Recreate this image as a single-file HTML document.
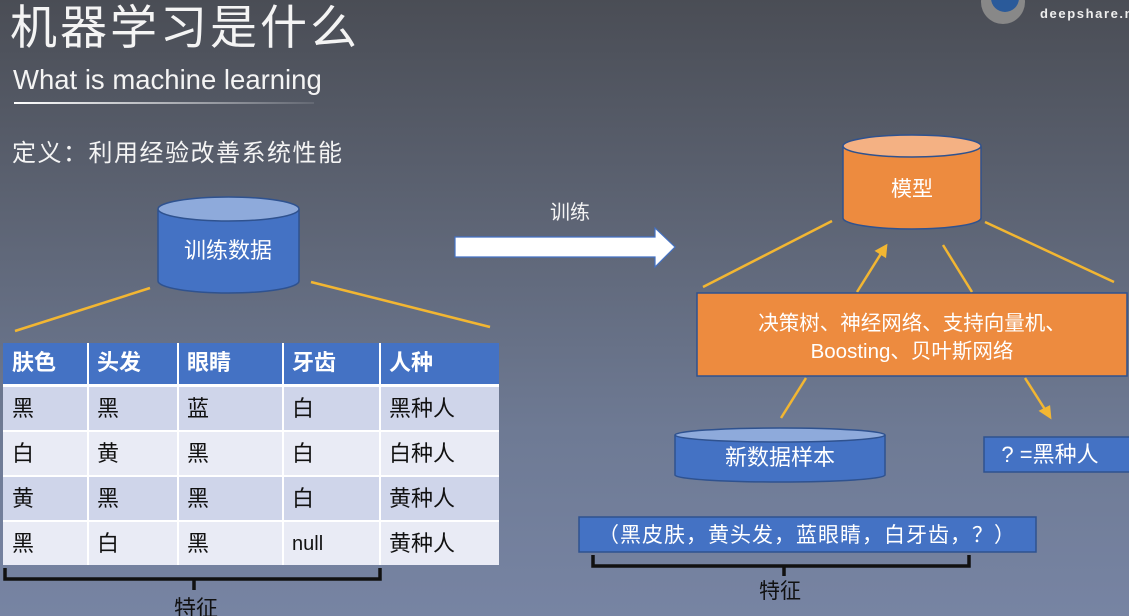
<!DOCTYPE html>
<html><head><meta charset="utf-8"><style>
html,body{margin:0;padding:0;}
body{width:1129px;height:616px;overflow:hidden;background:linear-gradient(180deg,#4a4d55 0%,#5d6474 35%,#6e7a94 70%,#7784a3 100%);}
svg{display:block;font-family:"Liberation Sans","Noto Sans CJK SC",sans-serif;}
</style></head><body>
<svg width="1129" height="616" viewBox="0 0 1129 616">
<defs>
<linearGradient id="ul" x1="0" x2="1"><stop offset="0" stop-color="#fff"/><stop offset="1" stop-color="#fff" stop-opacity="0.1"/></linearGradient>
</defs>
<text x="10" y="44" font-size="47" fill="#f4f4f4" letter-spacing="3">机器学习是什么</text>
<text x="13" y="89" font-size="27.5" fill="#f4f4f4">What is machine learning</text>
<rect x="14" y="102" width="300" height="2" fill="url(#ul)"/>
<text x="12" y="161" font-size="24" fill="#f4f4f4" letter-spacing="1.5">定义：利用经验改善系统性能</text>
<!-- logo -->
<circle cx="1003" cy="2" r="22" fill="#888"/><circle cx="1005" cy="-2" r="14" fill="#2a5a9a"/>
<text x="1040" y="18" font-size="13" font-weight="bold" fill="#eee" letter-spacing="1.6">deepshare.n</text>
<!-- training data cylinder -->
<path d="M158,209 L158,281 A70.5,12 0 0 0 299,281 L299,209" fill="#4472c4" stroke="#2f528f" stroke-width="1.5"/>
<ellipse cx="228.5" cy="209" rx="70.5" ry="12" fill="#8eaadb" stroke="#2f528f" stroke-width="1.5"/>
<text x="228" y="258" font-size="22" fill="#fff" text-anchor="middle">训练数据</text>
<line x1="150" y1="288" x2="15" y2="331" stroke="#f2b632" stroke-width="2.5"/>
<line x1="311" y1="282" x2="490" y2="327" stroke="#f2b632" stroke-width="2.5"/>
<!-- table -->
<rect x="3" y="343" width="496" height="222" fill="#fff"/>
<rect x="3" y="343" width="496" height="41" fill="#4472c4"/>
<rect x="3" y="387" width="496" height="43" fill="#cfd5ea"/>
<rect x="3" y="432" width="496" height="43" fill="#e9ebf5"/>
<rect x="3" y="477" width="496" height="43" fill="#cfd5ea"/>
<rect x="3" y="522" width="496" height="43" fill="#e9ebf5"/>
<g stroke="#fff" stroke-width="2"><line x1="88" y1="343" x2="88" y2="565"/><line x1="178" y1="343" x2="178" y2="565"/><line x1="283" y1="343" x2="283" y2="565"/><line x1="380" y1="343" x2="380" y2="565"/></g>
<g font-size="22" fill="#fff" font-weight="bold"><text x="12" y="370">肤色</text><text x="97" y="370">头发</text><text x="187" y="370">眼睛</text><text x="292" y="370">牙齿</text><text x="389" y="370">人种</text></g>
<g font-size="22" fill="#111">
<text x="12" y="416">黑</text><text x="97" y="416">黑</text><text x="187" y="416">蓝</text><text x="292" y="416">白</text><text x="389" y="416">黑种人</text>
<text x="12" y="461">白</text><text x="97" y="461">黄</text><text x="187" y="461">黑</text><text x="292" y="461">白</text><text x="389" y="461">白种人</text>
<text x="12" y="506">黄</text><text x="97" y="506">黑</text><text x="187" y="506">黑</text><text x="292" y="506">白</text><text x="389" y="506">黄种人</text>
<text x="12" y="551">黑</text><text x="97" y="551">白</text><text x="187" y="551">黑</text><text x="292" y="550" font-size="20">null</text><text x="389" y="551">黄种人</text>
</g>
<path d="M5,568 L5,579 L380,579 L380,568 M194,579 L194,590" fill="none" stroke="#111" stroke-width="3.5"/>
<text x="196" y="616" font-size="22" fill="#111" text-anchor="middle">特征</text>
<!-- arrow -->
<text x="570" y="219" font-size="20" fill="#f4f4f4" text-anchor="middle">训练</text>
<path d="M455,237 L655,237 L655,228 L675,247 L655,267 L655,257 L455,257 Z" fill="#fff" stroke="#4472c4" stroke-width="1.2"/>
<!-- model cylinder -->
<path d="M843,146 L843,218 A69,11 0 0 0 981,218 L981,146" fill="#ed8b3f" stroke="#2f528f" stroke-width="1.5"/>
<ellipse cx="912" cy="146" rx="69" ry="11" fill="#f4b183" stroke="#2f528f" stroke-width="1.5"/>
<text x="912" y="196" font-size="21" fill="#fff" text-anchor="middle">模型</text>
<g stroke="#f2b632" stroke-width="2.5" fill="#f2b632">
<line x1="832" y1="221" x2="703" y2="287"/>
<line x1="857" y1="292" x2="882" y2="252"/>
<path d="M886,246 L877,251 L885,256 Z"/>
<line x1="943" y1="245" x2="972" y2="292"/>
<line x1="985" y1="222" x2="1114" y2="282"/>
<line x1="806" y1="378" x2="781" y2="418"/>
<line x1="1025" y1="378" x2="1046" y2="411"/>
<path d="M1050,417 L1041,411 L1049,407 Z"/>
</g>
<rect x="697" y="293" width="430" height="83" fill="#ed8b3f" stroke="#2f528f" stroke-width="1.5"/>
<text x="912" y="330" font-size="20.5" fill="#fff" text-anchor="middle">决策树、神经网络、支持向量机、</text>
<text x="912" y="358" font-size="20.5" fill="#fff" text-anchor="middle">Boosting、贝叶斯网络</text>
<!-- new data cylinder -->
<path d="M675,435 L675,475 A105,7 0 0 0 885,475 L885,435" fill="#4472c4" stroke="#2f528f" stroke-width="1.5"/>
<ellipse cx="780" cy="435" rx="105" ry="7" fill="#8eaadb" stroke="#2f528f" stroke-width="1.5"/>
<text x="780" y="465" font-size="22" fill="#fff" text-anchor="middle">新数据样本</text>
<rect x="984" y="437" width="150" height="35" fill="#4472c4" stroke="#2f528f" stroke-width="1.5"/>
<text x="1050" y="462" font-size="22" fill="#fff" text-anchor="middle">? =黑种人</text>
<rect x="579" y="517" width="457" height="35" fill="#4472c4" stroke="#2f528f" stroke-width="1.5"/>
<text x="807" y="542" font-size="21" fill="#fff" text-anchor="middle" letter-spacing="1">（黑皮肤，黄头发，蓝眼睛，白牙齿，？）</text>
<path d="M593,555 L593,566 L969,566 L969,555 M784,566 L784,576" fill="none" stroke="#111" stroke-width="3.5"/>
<text x="780" y="598" font-size="21" fill="#111" text-anchor="middle">特征</text>
</svg>
</body></html>
